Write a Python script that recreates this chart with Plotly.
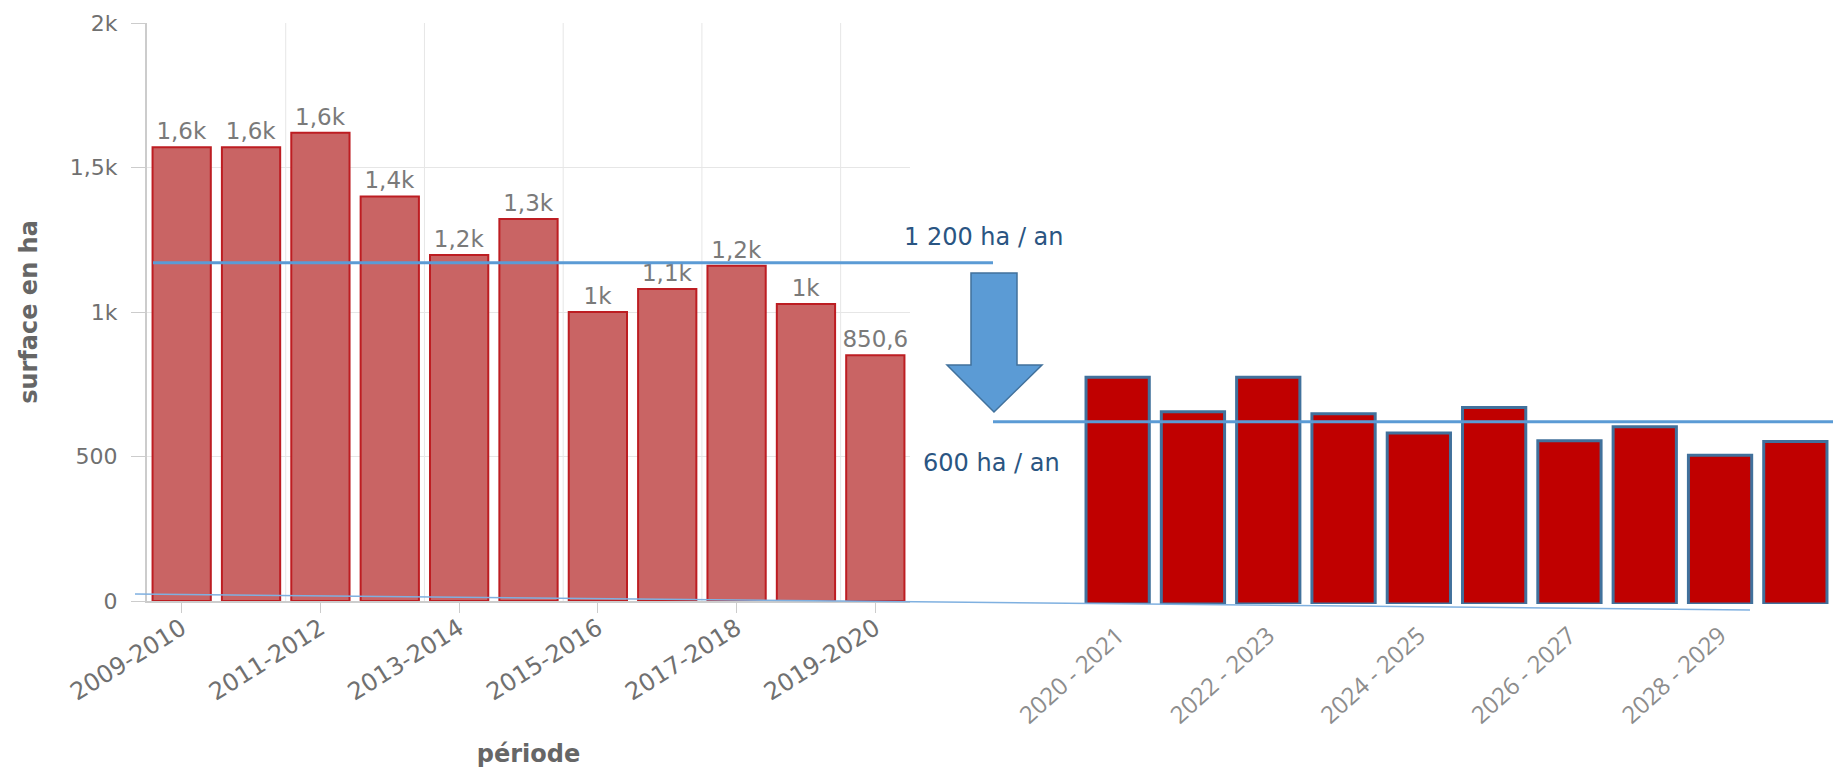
import plotly.graph_objects as go

# ---------------- data ----------------
past_periods = ["2009-2010", "2010-2011", "2011-2012", "2012-2013", "2013-2014",
                "2014-2015", "2015-2016", "2016-2017", "2017-2018", "2018-2019",
                "2019-2020"]
past_values = [1570, 1570, 1620, 1400, 1197, 1322, 1000, 1080, 1160, 1028, 850.6]

future_periods = ["2020 - 2021", "2021 - 2022", "2022 - 2023", "2023 - 2024",
                  "2024 - 2025", "2025 - 2026", "2026 - 2027", "2027 - 2028",
                  "2028 - 2029", "2029 - 2030"]
future_values = [785, 665, 785, 658, 592, 680, 565, 613, 515, 562]

y_tick_values = [0, 500, 1000, 1500, 2000]
y_tick_labels = ["0", "500", "1k", "1,5k", "2k"]

past_rate = 1170      # "1 200 ha / an" reference line
future_rate = 620     # "600 ha / an" reference line

W, H = 1833, 768


def fr_label(v):
    if v >= 1000:
        s = f"{v/1000:.1f}".replace(".", ",")
        if s.endswith(",0"):
            s = s[:-2]
        return s + "k"
    s = f"{v:.1f}".replace(".", ",")
    if s.endswith(",0"):
        s = s[:-2]
    return s


def px(x):
    return x / W


def py(y):
    return 1 - y / H


FONT = "DejaVu Sans"

fig = go.Figure()

fig.add_trace(go.Bar(
    x=past_periods, y=past_values,
    xaxis="x", yaxis="y",
    marker=dict(color="#C96464", line=dict(color="#BD1D22", width=2)),
    text=[fr_label(v) for v in past_values],
    textposition="outside",
    constraintext="none",
    textfont=dict(family=FONT, size=23, color="#7a7a7a"),
    cliponaxis=False,
    hoverinfo="x+y",
    showlegend=False,
))

fig.add_trace(go.Bar(
    x=future_periods, y=future_values,
    xaxis="x2", yaxis="y2",
    marker=dict(color="#C00000", line=dict(color="#41719C", width=3)),
    hoverinfo="x+y",
    showlegend=False,
))

shapes = []
# vertical grid lines between every second category (left chart)
for i in range(1, len(past_periods) - 1, 2):
    shapes.append(dict(type="line", xref="x", yref="y",
                       x0=i + 0.5, x1=i + 0.5, y0=0, y1=2000,
                       line=dict(color="#e6e6e6", width=1), layer="below"))
# 1 200 ha / an line
shapes.append(dict(type="line", xref="paper", yref="y",
                   x0=px(153), x1=px(993), y0=past_rate, y1=past_rate,
                   line=dict(color="#5B9BD5", width=3), layer="above"))
# 600 ha / an line
shapes.append(dict(type="line", xref="paper", yref="y",
                   x0=px(993), x1=1.0, y0=future_rate, y1=future_rate,
                   line=dict(color="#5B9BD5", width=3), layer="above"))
# thin baseline connector
shapes.append(dict(type="line", xref="paper", yref="paper",
                   x0=px(135), x1=px(1750), y0=py(594), y1=py(610),
                   line=dict(color="#7FB0E0", width=1.5), layer="above"))
# down arrow
arrow_pts = [(971, 273), (1017, 273), (1017, 365), (1042, 365),
             (994, 412), (947, 365), (971, 365)]
path = "M " + " L ".join(f"{px(a):.5f},{py(b):.5f}" for a, b in arrow_pts) + " Z"
shapes.append(dict(type="path", xref="paper", yref="paper", path=path,
                   fillcolor="#5B9BD5", line=dict(color="#41719C", width=1.5),
                   layer="above"))

annotations = [
    dict(text="1 200 ha / an", xref="paper", yref="paper",
         x=px(984), y=py(237), xanchor="center", yanchor="middle",
         showarrow=False,
         font=dict(family=FONT, size=24, color="#2A5582")),
    dict(text="600 ha / an", xref="paper", yref="paper",
         x=px(991), y=py(463), xanchor="center", yanchor="middle",
         showarrow=False,
         font=dict(family=FONT, size=24, color="#2A5582")),
]

fig.update_layout(
    width=W, height=H, autosize=False,
    margin=dict(l=0, r=0, t=0, b=0),
    paper_bgcolor="white", plot_bgcolor="white",
    bargap=0.16,
    font=dict(family=FONT, color="#666666"),
    shapes=shapes, annotations=annotations,
    xaxis=dict(
        type="category", domain=[px(147), px(910)], anchor="y",
        range=[-0.5, 10.5], automargin=False,
        tickvals=past_periods[::2], ticktext=past_periods[::2],
        tickangle=-32, tickfont=dict(family=FONT, size=24, color="#707070"),
        ticks="outside", ticklen=10, tickcolor="#cccccc",
        ticklabelstandoff=-8,
        showline=True, linecolor="#cccccc", linewidth=2,
        showgrid=False,
        title=dict(text="<b>période</b>", standoff=48,
                   font=dict(family=FONT, size=24, color="#666666")),
    ),
    yaxis=dict(
        domain=[py(601), py(23)], anchor="x", range=[0, 2000],
        automargin=False,
        tickvals=y_tick_values, ticktext=y_tick_labels,
        tickfont=dict(family=FONT, size=22, color="#707070"),
        ticks="outside", ticklen=14, tickcolor="#cccccc",
        ticklabelstandoff=9,
        showline=True, linecolor="#cccccc", linewidth=2,
        showgrid=True, gridcolor="#e6e6e6", zeroline=False,
        title=dict(text="<b>surface en ha</b>", standoff=25,
                   font=dict(family=FONT, size=24, color="#666666")),
    ),
    xaxis2=dict(
        type="category", domain=[px(1080), 1.0], anchor="y2",
        range=[-0.5, 9.5], automargin=False,
        tickvals=future_periods[::2], ticktext=future_periods[::2],
        tickangle=-42, tickfont=dict(family="Open Sans", size=24, color="#8c8c8c"),
        ticks="", showline=False, showgrid=False, zeroline=False,
        ticklabelstandoff=12,
    ),
    yaxis2=dict(
        domain=[py(604), py(26)], anchor="x2", range=[0, 2000],
        visible=False, showgrid=False, zeroline=False, automargin=False,
    ),
)

fig.write_html("out.html", config={"displayModeBar": False},
               post_script="document.body.style.margin='0';")
